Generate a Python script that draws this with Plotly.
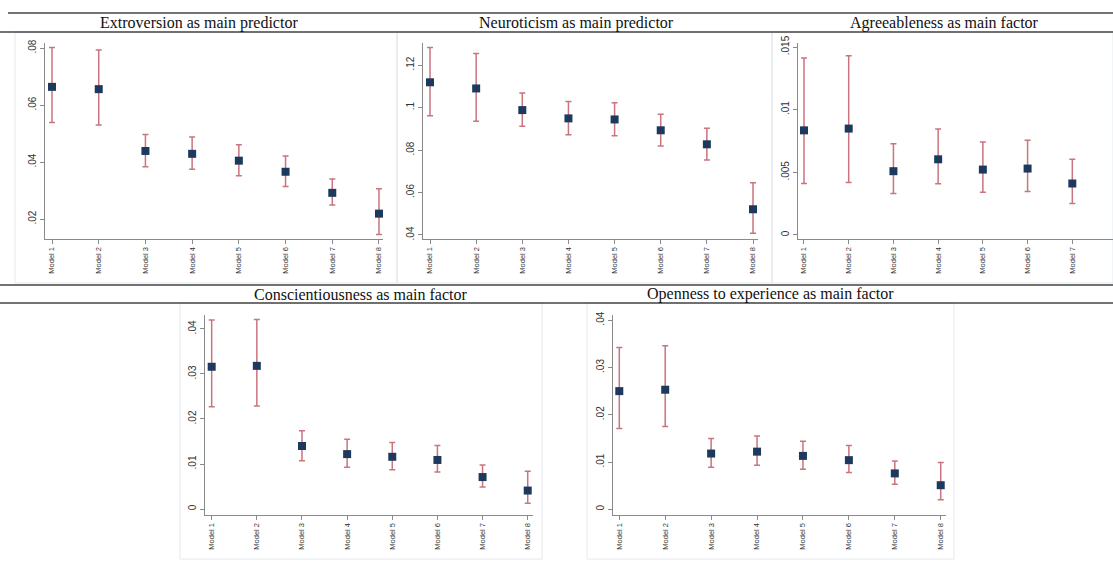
import plotly.graph_objects as go

W, H = 1113, 572

models = ["Model 1", "Model 2", "Model 3", "Model 4", "Model 5", "Model 6", "Model 7", "Model 8"]

titles = ["Extroversion as main predictor", "Neuroticism as main predictor",
          "Agreeableness as main factor", "Conscientiousness as main factor",
          "Openness to experience as main factor"]

extro_est = [0.0664, 0.0656, 0.0439, 0.0429, 0.0405, 0.0366, 0.0292, 0.0219]
extro_hi = [0.0802, 0.0793, 0.0497, 0.0488, 0.0461, 0.0421, 0.0341, 0.0306]
extro_lo = [0.0539, 0.0530, 0.0384, 0.0375, 0.0352, 0.0314, 0.0249, 0.0146]

neuro_est = [0.1119, 0.1090, 0.0988, 0.0949, 0.0944, 0.0893, 0.0827, 0.0521]
neuro_hi = [0.1283, 0.1255, 0.1068, 0.1029, 0.1023, 0.0969, 0.0902, 0.0646]
neuro_lo = [0.0961, 0.0936, 0.0912, 0.0872, 0.0867, 0.0819, 0.0753, 0.0408]

agree_est = [0.00835, 0.00849, 0.00509, 0.00604, 0.00522, 0.00530, 0.00411]
agree_hi = [0.01412, 0.01430, 0.00729, 0.00846, 0.00743, 0.00756, 0.00604]
agree_lo = [0.00411, 0.00419, 0.00331, 0.00408, 0.00342, 0.00347, 0.00252]

consc_est = [0.0316, 0.0318, 0.0140, 0.0122, 0.0116, 0.0109, 0.0071, 0.0041]
consc_hi = [0.0420, 0.0421, 0.0174, 0.0155, 0.0148, 0.0141, 0.0098, 0.0084]
consc_lo = [0.0227, 0.0229, 0.0107, 0.0093, 0.0087, 0.0082, 0.0049, 0.0013]

open_est = [0.0250, 0.0253, 0.0118, 0.0122, 0.0113, 0.0104, 0.0076, 0.0051]
open_hi = [0.0342, 0.0346, 0.0150, 0.0155, 0.0144, 0.0135, 0.0102, 0.0099]
open_lo = [0.0171, 0.0175, 0.0089, 0.0093, 0.0085, 0.0078, 0.0053, 0.0020]

yticks_1 = [0.02, 0.04, 0.06, 0.08]
ylabels_1 = [".02", ".04", ".06", ".08"]
yticks_2 = [0.04, 0.06, 0.08, 0.10, 0.12]
ylabels_2 = [".04", ".06", ".08", ".1", ".12"]
yticks_3 = [0, 0.005, 0.01, 0.015]
ylabels_3 = ["0", ".005", ".01", ".015"]
yticks_45 = [0, 0.01, 0.02, 0.03, 0.04]
ylabels_45 = ["0", ".01", ".02", ".03", ".04"]

series = [
    (extro_est, extro_hi, extro_lo, yticks_1, ylabels_1),
    (neuro_est, neuro_hi, neuro_lo, yticks_2, ylabels_2),
    (agree_est, agree_hi, agree_lo, yticks_3, ylabels_3),
    (consc_est, consc_hi, consc_lo, yticks_45, ylabels_45),
    (open_est, open_hi, open_lo, yticks_45, ylabels_45),
]

# layout geometry (pixels)
plot_x = [(45, 383), (423, 758), (798, 1113), (205, 533), (613, 946)]
plot_y = [(43, 239), (43, 239), (43, 239), (315, 515), (315, 515)]
xranges = [(-0.15, 7.086), (-0.152, 7.108), (-0.134, 6.91), (-0.148, 7.117), (-0.137, 7.115)]
yranges = [(0.013, 0.0818), (0.0381, 0.1304), (-0.00032, 0.01532), (-0.00133, 0.0431), (-0.0012, 0.0411)]
frames = [(15, 32, 397, 283), (397, 32, 772, 283), (772, 32, 1113, 283), (180, 303, 542, 559), (587, 303, 954, 559)]
title_pos = [(199, 23), (576, 23), (944, 23), (361, 294), (770, 294)]

def fx(p):
    return p / W

def fy(p):
    return 1 - p / H

fig = go.Figure()
shapes = []
annotations = []

for i, (est, hi, lo, ytv, ytt) in enumerate(series):
    n = len(est)
    xs = models[:n]
    k = "" if i == 0 else str(i + 1)
    fig.add_trace(go.Scatter(
        x=xs, y=est, mode="markers",
        marker=dict(symbol="square", size=8, color="#1d3a5e"),
        error_y=dict(type="data", symmetric=False,
                     array=[h - e for h, e in zip(hi, est)],
                     arrayminus=[e - l for e, l in zip(est, lo)],
                     color="#c9747e", thickness=1.5, width=3),
        xaxis="x" + k, yaxis="y" + k, showlegend=False,
    ))
    x0, x1 = plot_x[i]
    y0, y1 = plot_y[i]
    fig.layout["xaxis" + k] = dict(
        domain=[fx(x0), fx(x1)], anchor="y" + k, type="category",
        categoryorder="array", categoryarray=models,
        range=list(xranges[i]), showgrid=False, zeroline=False,
        showline=True, linecolor="#8a8a8a", linewidth=1,
        ticks="outside", ticklen=4, tickcolor="#8a8a8a", automargin=False,
        tickangle=-90, tickfont=dict(family="Liberation Sans, Arial", size=7.5, color="#333"),
    )
    fig.layout["yaxis" + k] = dict(
        domain=[fy(y1), fy(y0)], anchor="x" + k,
        range=list(yranges[i]), showgrid=False, zeroline=False,
        showline=True, linecolor="#8a8a8a", linewidth=1,
        ticks="outside", ticklen=4, tickcolor="#8a8a8a", automargin=False,
        tickvals=ytv, ticktext=ytt, tickangle=-90,
        tickfont=dict(family="Liberation Sans, Arial", size=10, color="#333"),
    )
    fx0, fy0, fx1, fy1 = frames[i]
    shapes.append(dict(type="rect", xref="paper", yref="paper",
                       x0=fx(fx0), x1=fx(fx1), y0=fy(fy1), y1=fy(fy0),
                       line=dict(color="#e4e8ea", width=1), layer="below"))
    tx, ty = title_pos[i]
    annotations.append(dict(text=titles[i], xref="paper", yref="paper",
                            x=fx(tx), y=fy(ty), xanchor="center", yanchor="middle",
                            showarrow=False,
                            font=dict(family="Liberation Serif, Times New Roman", size=16, color="#111")))

# horizontal rules
for (xa, xb, yy) in [(8, 1113, 13), (0, 1113, 32), (0, 1113, 285), (0, 1113, 303)]:
    shapes.append(dict(type="line", xref="paper", yref="paper",
                       x0=fx(xa), x1=fx(xb), y0=fy(yy), y1=fy(yy),
                       line=dict(color="#444", width=1.5)))

fig.update_layout(
    width=W, height=H, margin=dict(l=0, r=0, t=0, b=0, pad=0, autoexpand=False),
    paper_bgcolor="white", plot_bgcolor="white",
    shapes=shapes, annotations=annotations,
)

fig.write_html("out.html", config={"displayModeBar": False},
               post_script="document.body.style.margin='0';document.body.style.overflow='hidden';")
